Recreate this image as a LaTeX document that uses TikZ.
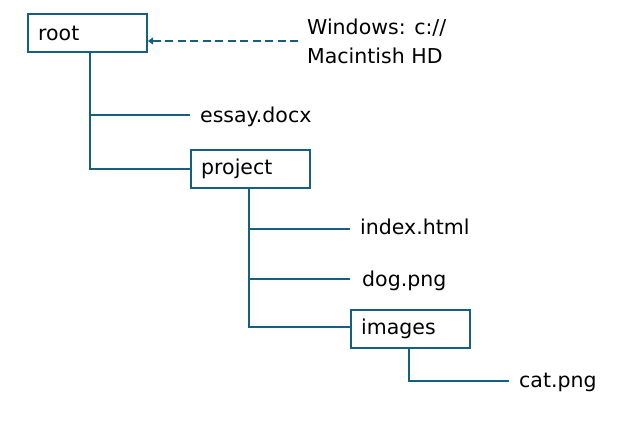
\documentclass[tikz,border=0pt]{standalone}
\usepackage{fontspec}
\setmainfont{DejaVu Sans}
\usetikzlibrary{arrows.meta}
\definecolor{tree}{HTML}{156082}
\begin{document}
\begin{tikzpicture}[x=1pt,y=-1pt,
  lbl/.style={anchor=base west,inner sep=0pt,font=\fontsize{20.5}{24}\selectfont,text=black},
  dirbox/.style={draw=tree,line width=1.2pt,minimum width=119pt,minimum height=38pt,anchor=north west,inner sep=0pt,outer sep=0pt},
  branch/.style={draw=tree,line width=2pt},
  link/.style={draw=tree,line width=2.2pt,dash pattern=on 8pt off 4.5pt,-{Triangle[length=5pt,width=7pt,line width=0.5pt]}}]
\useasboundingbox (0,0) rectangle (641,427);
% boxes
\node[dirbox] (root) at (28,14) {};
\node[lbl] at (38,40.5) {root};
\node[dirbox] (project) at (191,150) {};
\node[lbl] at (201,175) {project};
\node[dirbox] (images) at (351,310) {};
\node[lbl] at (361,335) {images};
% labels
\node[lbl] (win) at (307,35) {Windows: c://};
\node[lbl] (mac) at (307,64) {Macintish HD};
\node[lbl] (essay) at (200,123) {essay.docx};
\node[lbl] (index) at (360,235) {index.html};
\node[lbl] (dog) at (362,287) {dog.png};
\node[lbl] (cat) at (519,388) {cat.png};
% coordinates
\coordinate (rootdown) at (90,53);
\coordinate (rootcorner) at (90,169);
\coordinate (essayend) at (190,115);
\coordinate (essayjoin) at (90,115);
\coordinate (projdown) at (249,188);
\coordinate (projcorner) at (249,327);
\coordinate (indexjoin) at (249,229);
\coordinate (indexend) at (350,229);
\coordinate (dogjoin) at (249,279);
\coordinate (dogend) at (350,279);
\coordinate (imgdown) at (409,348);
\coordinate (imgcorner) at (409,381);
\coordinate (catend) at (509,381);
\coordinate (arrstart) at (298,41);
\coordinate (arrend) at (148,41);
% connectors
\draw[branch] (rootdown) -- (rootcorner) -- (project.west |- rootcorner);
\draw[branch] (essayjoin) -- (essayend);
\draw[branch] (projdown) -- (projcorner) -- (images.west |- projcorner);
\draw[branch] (indexjoin) -- (indexend);
\draw[branch] (dogjoin) -- (dogend);
\draw[branch] (imgdown) -- (imgcorner) -- (catend);
\draw[link] (arrstart) -- (arrend);
\end{tikzpicture}
\end{document}
